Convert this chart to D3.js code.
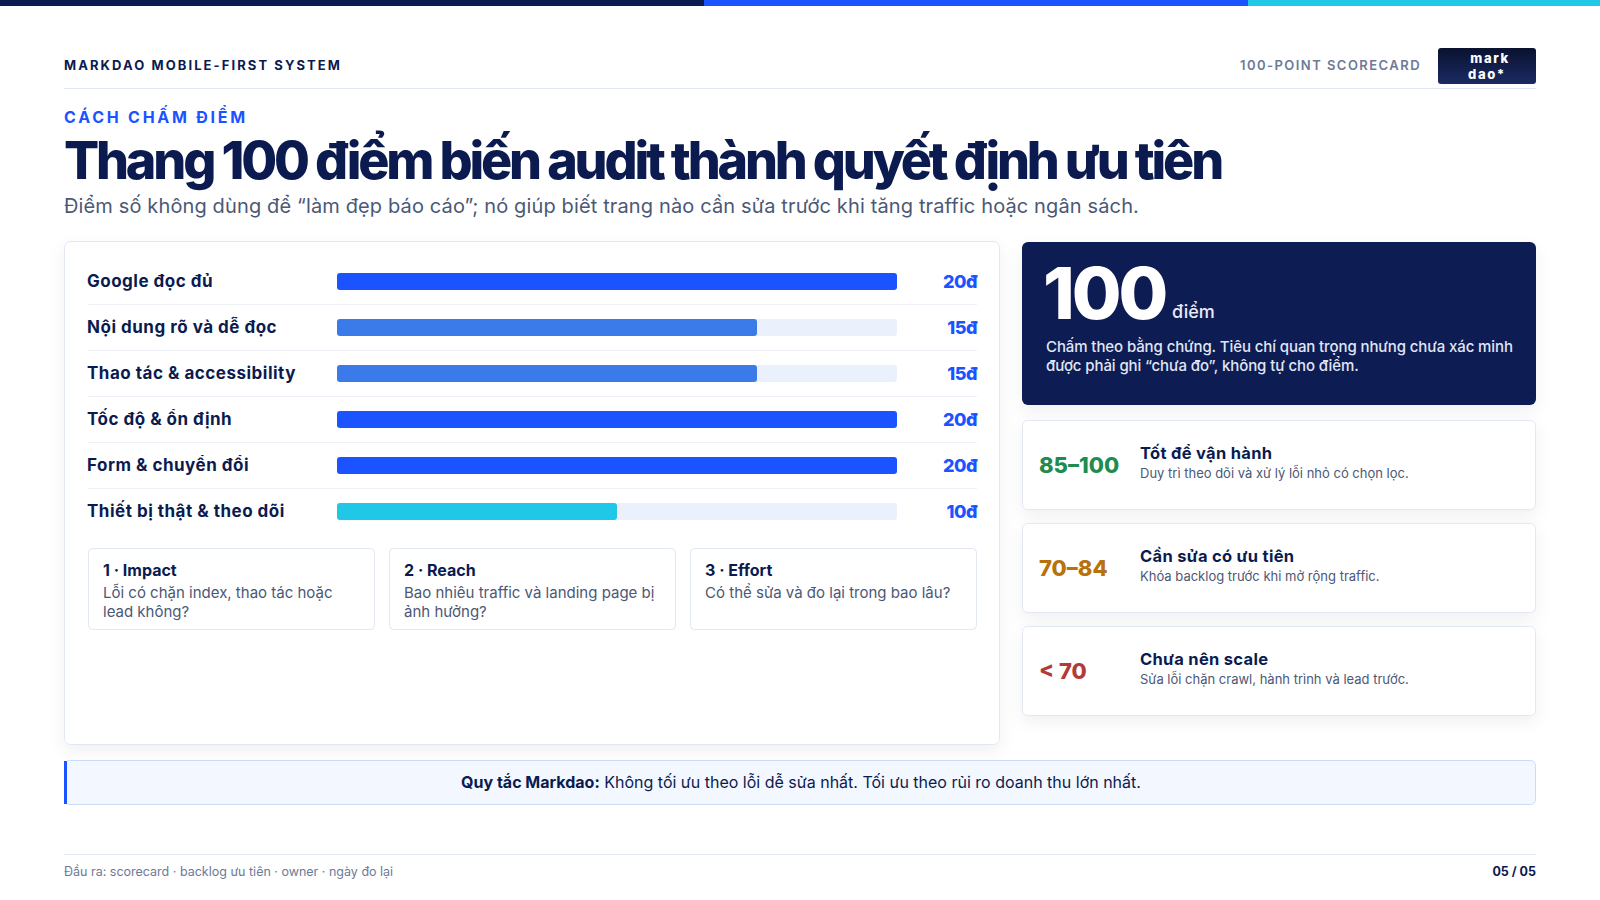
<!DOCTYPE html>
<html>
<head>
<meta charset="utf-8">
<script src="https://cdn.jsdelivr.net/npm/d3@7"></script>
<style>
  html, body { margin: 0; padding: 0; background: #fff; }
  svg { display: block; font-family: Inter, "Noto Sans", sans-serif; }
</style>
</head>
<body>
<div id="vis"></div>
<script>
// scorecard data
const criteria = [
  'Google đọc đủ',
  'Nội dung rõ và dễ đọc',
  'Thao tác & accessibility',
  'Tốc độ & ổn định',
  'Form & chuyển đổi',
  'Thiết bị thật & theo dõi'
];
const points = [20, 15, 15, 20, 20, 10];
const maxPoints = 20;

const factorTitles = ['1 · Impact', '2 · Reach', '3 · Effort'];
const factorLines = [
  ['Lỗi có chặn index, thao tác hoặc', 'lead không?'],
  ['Bao nhiêu traffic và landing page bị', 'ảnh hưởng?'],
  ['Có thể sửa và đo lại trong bao lâu?']
];

const tierRanges = ['85–100', '70–84', '< 70'];
const tierTitles = ['Tốt để vận hành', 'Cần sửa có ưu tiên', 'Chưa nên scale'];
const tierNotes = [
  'Duy trì theo dõi và xử lý lỗi nhỏ có chọn lọc.',
  'Khóa backlog trước khi mở rộng traffic.',
  'Sửa lỗi chặn crawl, hành trình và lead trước.'
];

const navy = '#0b1b50';
const blue = '#1a53ff';
const grayText = '#4b5876';
const lineColor = '#e1e7f3';

const W = 1600, H = 900;
const svg = d3.select('#vis').append('svg').attr('width', W).attr('height', H);

const defs = svg.append('defs');
const shadow = defs.append('filter').attr('id', 'shadow')
  .attr('x', '-10%').attr('y', '-10%').attr('width', '120%').attr('height', '130%');
shadow.append('feDropShadow').attr('dx', 0).attr('dy', 6).attr('stdDeviation', 8)
  .attr('flood-color', '#0b1b50').attr('flood-opacity', 0.06);
const logoGrad = defs.append('linearGradient').attr('id', 'logoGrad')
  .attr('x1', 0).attr('y1', 0).attr('x2', 0).attr('y2', 1);
logoGrad.append('stop').attr('offset', '0%').attr('stop-color', '#0a1230');
logoGrad.append('stop').attr('offset', '100%').attr('stop-color', '#1b2a63');

// stretch/shrink letter spacing so a text fills a measured width
const fit = (sel, width) => {
  const n = sel.text().length;
  const cur = sel.node().getComputedTextLength();
  const ls = parseFloat(sel.attr('letter-spacing') || 0);
  sel.attr('letter-spacing', ls + (width - cur) / n);
  return sel;
};

// top colour strip
const strip = [[0, 704, '#0b1b50'], [704, 1248, blue], [1248, 1600, '#1fc8e6']];
svg.selectAll('.strip').data(strip).enter().append('rect')
  .attr('x', (d) => d[0]).attr('y', 0)
  .attr('width', (d) => d[1] - d[0]).attr('height', 6)
  .attr('fill', (d) => d[2]);

// header
fit(svg.append('text').attr('x', 64).attr('y', 70)
  .attr('font-size', 13).attr('font-weight', 700).attr('fill', navy)
  .attr('letter-spacing', 2).text('MARKDAO MOBILE-FIRST SYSTEM'), 278);
fit(svg.append('text').attr('x', 1421).attr('y', 70).attr('text-anchor', 'end')
  .attr('font-size', 13).attr('font-weight', 600).attr('fill', '#6d7a96')
  .attr('letter-spacing', 1.5).text('100-POINT SCORECARD'), 181);

svg.append('rect').attr('x', 1438).attr('y', 48).attr('width', 98).attr('height', 36)
  .attr('rx', 3).attr('fill', 'url(#logoGrad)');
const logoLines = ['mark', 'dao*'];
svg.selectAll('.logo').data(logoLines).enter().append('text')
  .attr('x', (d, i) => 1490 - i * 3).attr('y', (d, i) => 63 + i * 16)
  .attr('text-anchor', 'middle')
  .attr('font-size', 13).attr('font-weight', 800).attr('fill', '#fff')
  .attr('letter-spacing', 1.6)
  .text((d) => d);

svg.append('line').attr('x1', 64).attr('x2', 1536).attr('y1', 88.5).attr('y2', 88.5)
  .attr('stroke', lineColor);

// titles
fit(svg.append('text').attr('x', 64).attr('y', 123)
  .attr('font-size', 16).attr('font-weight', 700).attr('fill', blue)
  .attr('letter-spacing', 3).text('CÁCH CHẤM ĐIỂM'), 184);
fit(svg.append('text').attr('x', 64).attr('y', 179)
  .attr('font-size', 52).attr('font-weight', 800).attr('fill', navy)
  .attr('letter-spacing', -1).text('Thang 100 điểm biến audit thành quyết định ưu tiên'), 1157);
fit(svg.append('text').attr('x', 64).attr('y', 213)
  .attr('font-size', 20).attr('font-weight', 400).attr('fill', grayText)
  .text('Điểm số không dùng để “làm đẹp báo cáo”; nó giúp biết trang nào cần sửa trước khi tăng traffic hoặc ngân sách.'), 1075);

// left panel with bars
svg.append('rect').attr('x', 64.5).attr('y', 241.5).attr('width', 935).attr('height', 503)
  .attr('rx', 6).attr('fill', '#fff').attr('stroke', lineColor).attr('filter', 'url(#shadow)');

const y = d3.scaleBand().domain(criteria).range([258.5, 534.5]);
const x = d3.scaleLinear().domain([0, maxPoints]).range([337, 897]);
const barColor = d3.scaleThreshold().domain([12, 18]).range(['#1fc8e6', '#3b7be9', blue]);
const barH = 17;

const rows = svg.append('g').selectAll('.row').data(criteria).enter().append('g')
  .attr('class', 'row')
  .attr('transform', (d) => `translate(0,${y(d) + y.bandwidth() / 2})`);

rows.filter((d, i) => i < criteria.length - 1).append('line')
  .attr('x1', 88).attr('x2', 977).attr('y1', y.bandwidth() / 2).attr('y2', y.bandwidth() / 2)
  .attr('stroke', '#edf0f7');

rows.append('text').attr('x', 87).attr('y', 5)
  .attr('font-size', 17).attr('font-weight', 700).attr('fill', navy)
  .attr('letter-spacing', 0.5)
  .text((d) => d);

rows.append('rect').attr('x', x(0)).attr('y', -barH / 2)
  .attr('width', x(maxPoints) - x(0)).attr('height', barH).attr('rx', 3)
  .attr('fill', '#eaf1fd');

rows.append('rect').attr('x', x(0)).attr('y', -barH / 2)
  .attr('width', (d, i) => x(points[i]) - x(0)).attr('height', barH).attr('rx', 3)
  .attr('fill', (d, i) => barColor(points[i]));

rows.append('text').attr('x', 977).attr('y', 6).attr('text-anchor', 'end')
  .attr('font-size', 18).attr('font-weight', 800).attr('fill', blue)
  .attr('letter-spacing', -0.5)
  .text((d, i) => `${points[i]}đ`);

// factor cards
const cardX = d3.scaleBand().domain(factorTitles).range([88, 977]).paddingInner(0.047);
const cards = svg.append('g').selectAll('.card').data(factorTitles).enter().append('g')
  .attr('transform', (d) => `translate(${cardX(d)},548)`);
cards.append('rect').attr('x', 0.5).attr('y', 0.5)
  .attr('width', cardX.bandwidth() - 1).attr('height', 81).attr('rx', 4)
  .attr('fill', '#fff').attr('stroke', lineColor);
cards.append('text').attr('x', 15).attr('y', 28)
  .attr('font-size', 16).attr('font-weight', 700).attr('fill', navy)
  .text((d) => d);
cards.each(function (d, i) {
  d3.select(this).selectAll('.ln').data(factorLines[i]).enter().append('text')
    .attr('x', 15).attr('y', (t, j) => 50 + j * 19)
    .attr('font-size', 15).attr('fill', grayText)
    .text((t) => t);
});

// score card
svg.append('rect').attr('x', 1022).attr('y', 242).attr('width', 514).attr('height', 163)
  .attr('rx', 6).attr('fill', '#0a1b52').attr('filter', 'url(#shadow)');
svg.append('text').attr('x', 1043).attr('y', 319)
  .attr('font-size', 72).attr('font-weight', 800).attr('fill', '#fff')
  .attr('letter-spacing', -3).text('100');
svg.append('text').attr('x', 1172).attr('y', 318)
  .attr('font-size', 18).attr('font-weight', 500).attr('fill', '#e6ebf7').text('điểm');
const scoreLines = [
  'Chấm theo bằng chứng. Tiêu chí quan trọng nhưng chưa xác minh',
  'được phải ghi “chưa đo”, không tự cho điểm.'
];
svg.selectAll('.sl').data(scoreLines).enter().append('text')
  .attr('x', 1046).attr('y', (d, i) => 352 + i * 19)
  .attr('font-size', 15).attr('font-weight', 500).attr('fill', '#e0e6f5')
  .attr('letter-spacing', -0.1)
  .text((d) => d);

// tier cards
const tierColors = ['#1f8c4f', '#b7720d', '#b23b37'];
const tierY = d3.scaleBand().domain(tierRanges).range([420, 729]);
const tiers = svg.append('g').selectAll('.tier').data(tierRanges).enter().append('g')
  .attr('transform', (d) => `translate(1022,${tierY(d)})`);
tiers.append('rect').attr('x', 0.5).attr('y', 0.5).attr('width', 513).attr('height', 89)
  .attr('rx', 5).attr('fill', '#fff').attr('stroke', lineColor).attr('filter', 'url(#shadow)');
tiers.append('text').attr('x', 17).attr('y', 53)
  .attr('font-size', 22).attr('font-weight', 800)
  .attr('fill', (d, i) => tierColors[i]).text((d) => d);
tiers.append('text').attr('x', 118).attr('y', 39)
  .attr('font-size', 16.5).attr('font-weight', 700).attr('fill', navy)
  .attr('letter-spacing', 0.3)
  .text((d, i) => tierTitles[i]);
tiers.append('text').attr('x', 118).attr('y', 58)
  .attr('font-size', 13).attr('fill', grayText)
  .text((d, i) => tierNotes[i]);

// rule banner
svg.append('rect').attr('x', 64.5).attr('y', 760.5).attr('width', 1471).attr('height', 44)
  .attr('rx', 5).attr('fill', '#f3f7ff').attr('stroke', '#cddbf6');
svg.append('rect').attr('x', 64).attr('y', 761).attr('width', 3).attr('height', 43)
  .attr('fill', blue);
const rule = svg.append('text').attr('x', 801).attr('y', 788).attr('text-anchor', 'middle')
  .attr('font-size', 16).attr('fill', navy);
rule.append('tspan').attr('font-weight', 700).text('Quy tắc Markdao:');
rule.append('tspan').text(' Không tối ưu theo lỗi dễ sửa nhất. Tối ưu theo rủi ro doanh thu lớn nhất.');

// footer
svg.append('line').attr('x1', 64).attr('x2', 1536).attr('y1', 854.5).attr('y2', 854.5)
  .attr('stroke', lineColor);
svg.append('text').attr('x', 64).attr('y', 876)
  .attr('font-size', 12.5).attr('fill', '#6d7a96')
  .text('Đầu ra: scorecard · backlog ưu tiên · owner · ngày đo lại');
svg.append('text').attr('x', 1536).attr('y', 876).attr('text-anchor', 'end')
  .attr('font-size', 12.5).attr('font-weight', 700).attr('fill', navy)
  .text('05 / 05');
</script>
</body>
</html>
